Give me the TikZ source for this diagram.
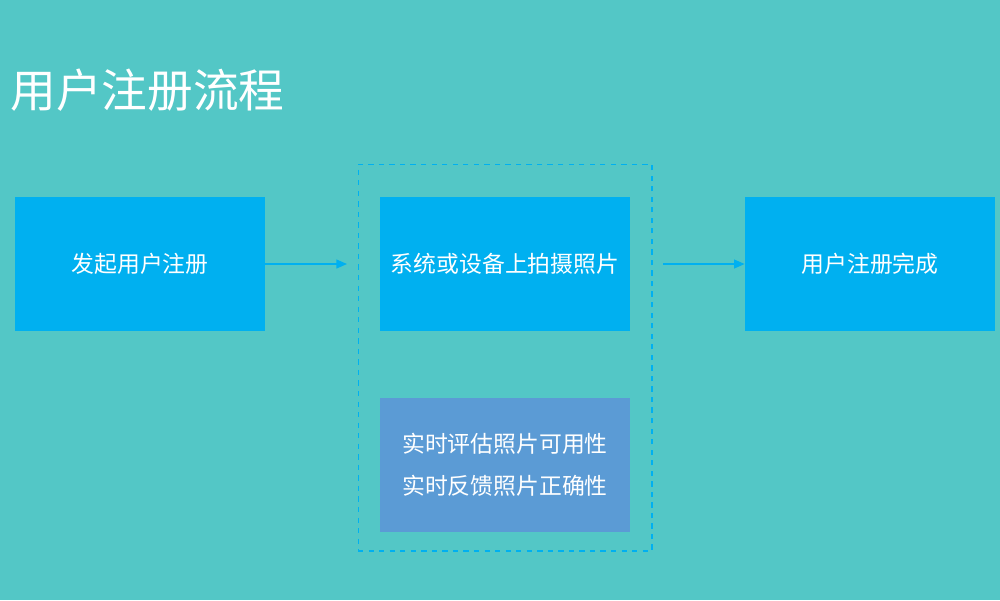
\documentclass[tikz,border=0pt]{standalone}
\usepackage{fontspec}
\setmainfont{Noto Sans CJK SC}
\usetikzlibrary{positioning,arrows.meta}
\definecolor{bgteal}{HTML}{53C7C6}
\definecolor{boxblue}{HTML}{00B0F0}
\definecolor{boxsteel}{HTML}{5B9BD5}

\begin{document}
\begin{tikzpicture}[x=0.02cm,y=-0.02cm,
        stage node/.style={fill=boxblue, text=white, minimum width=5cm,
        minimum height=2.68cm, inner sep=0pt, font=\fontsize{13}{16}\selectfont},
        flow/.style={-{Triangle[length=6pt,width=5pt]}, boxblue, line width=0.8pt}
        ]

        \fill [bgteal] (0,0) rectangle (1000,600);
        \useasboundingbox (0,0) rectangle (1000,600);

        \node [anchor=west, text=white, inner sep=0pt,
               font=\fontsize{26}{31}\selectfont] (title) at (10,90) {用户注册流程};

        \node [draw=boxblue, dashed, line width=0.6pt, minimum width=5.88cm,
               minimum height=7.74cm, inner sep=0pt] (group) at (505,357.5) {};

        \node [stage node] (start) at (140,264) {发起用户注册};
        \node [stage node] (photo) at (505,264) {系统或设备上拍摄照片};
        \node [stage node] (done) at (870,264) {用户注册完成};
        \node [stage node, fill=boxsteel, align=center] (check) at (505,465)
              {实时评估照片可用性\\[8pt]实时反馈照片正确性};

        \coordinate (in end) at (347,264);
        \coordinate (out start) at (663,264);
        \draw [flow] (start.east) -- (in end);
        \draw [flow] (out start) -- (done.west);
     \end{tikzpicture}
\end{document}
